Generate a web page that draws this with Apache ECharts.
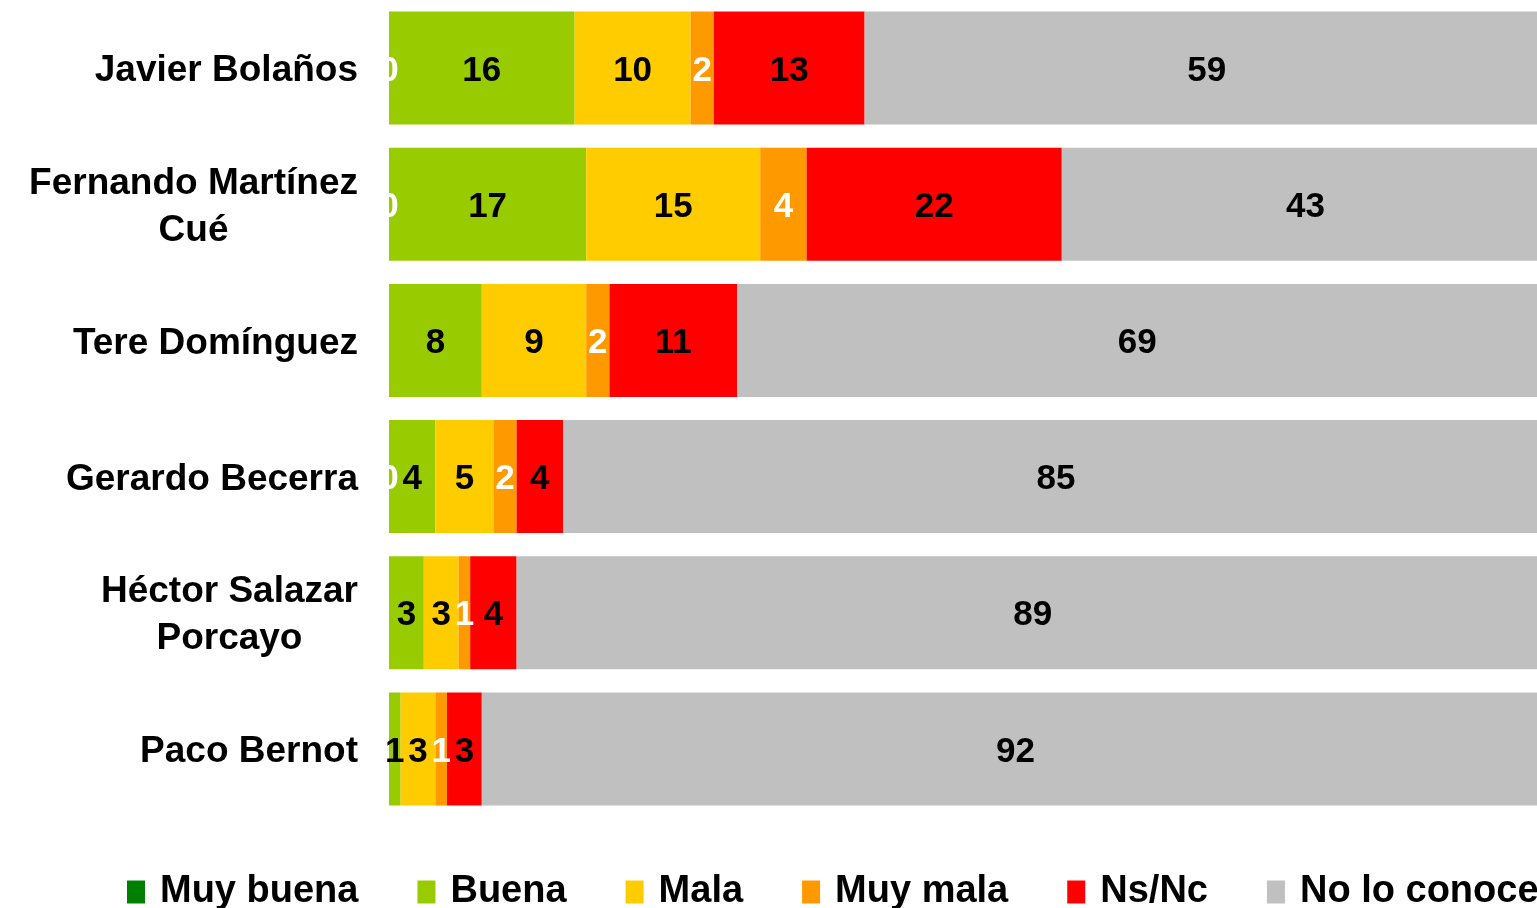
<!DOCTYPE html>
<html>
<head>
<meta charset="utf-8">
<style>
  html, body { margin: 0; padding: 0; background: #fff; }
  #main { width: 1537px; height: 908px; }
</style>
<script src="https://cdn.jsdelivr.net/npm/echarts@6/dist/echarts.min.js"></script>
</head>
<body>
<div id="main"></div>
<script>
// categories, top to bottom
var candidatos = ['Javier Bolaños', 'Fernando Martínez\nCué', 'Tere Domínguez', 'Gerardo Becerra', 'Héctor Salazar\nPorcayo', 'Paco Bernot'];
var seriesNames = ['Muy buena', 'Buena', 'Mala', 'Muy mala', 'Ns/Nc', 'No lo conoce'];

// percentages per opinion
var muyBuena   = [0, 0, null, 0, null, null];
var buena      = [16, 17, 8, 4, 3, 1];
var mala       = [10, 15, 9, 5, 3, 3];
var muyMala    = [2, 4, 2, 2, 1, 1];
var nsNc       = [13, 22, 11, 4, 4, 3];
var noLoConoce = [59, 43, 69, 85, 89, 92];

var colores = ['#008000', '#99CC00', '#FFCC00', '#FF9900', '#FF0000', '#C0C0C0'];
var labelColores = ['#fff', '#000', '#000', '#fff', '#000', '#000'];
var valores = [muyBuena, buena, mala, muyMala, nsNc, noLoConoce];

var FONT = "'Liberation Sans', Arial, sans-serif";

var myChart = echarts.init(document.getElementById('main'));

var series = seriesNames.map(function (name, i) {
  return {
    name: name,
    type: 'bar',
    stack: 'total',
    barCategoryGap: '17%',
    data: valores[i],
    itemStyle: { color: colores[i] },
    label: {
      show: true,
      position: 'inside',
      offset: [0, 3],
      color: labelColores[i],
      fontFamily: FONT,
      fontWeight: 'bold',
      fontSize: 35
    },
    emphasis: { disabled: true }
  };
});

var option = {
  backgroundColor: '#fff',
  animation: false,
  grid: { left: 389, top: 0, width: 1160, height: 817, outerBoundsMode: 'none' },
  xAxis: {
    type: 'value',
    min: 0,
    max: 100,
    show: false
  },
  yAxis: {
    type: 'category',
    inverse: true,
    data: candidatos,
    axisLine: { show: false },
    axisTick: { show: false },
    axisLabel: {
      margin: 31,
      align: 'right',
      padding: [6, 0, 0, 0],
      formatter: function (v) {
        return v.split('\n').map(function (l) { return '{a|' + l + '}'; }).join('\n');
      },
      rich: {
        a: {
          align: 'center',
          fontFamily: FONT,
          fontWeight: 'bold',
          fontSize: 37,
          lineHeight: 47,
          color: '#000'
        }
      }
    }
  },
  legend: {
    left: 127,
    top: 873,
    width: 1800,
    padding: 0,
    itemGap: 59,
    itemWidth: 18,
    itemHeight: 23,
    icon: 'rect',
    data: seriesNames,
    textStyle: {
      fontFamily: FONT,
      fontWeight: 'bold',
      fontSize: 38,
      lineHeight: 38,
      color: '#000',
      padding: [0, 0, 0, 10]
    }
  },
  series: series
};

myChart.setOption(option);
</script>
</body>
</html>
